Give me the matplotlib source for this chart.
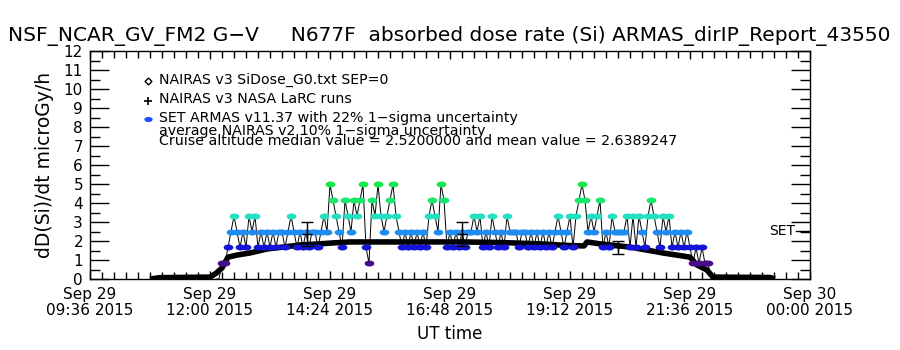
"""ARMAS absorbed dose rate (Si) for flight N677F, 29 Sep 2015."""

import matplotlib
matplotlib.use("Agg")
import matplotlib.pyplot as plt
from matplotlib import font_manager
from matplotlib.path import Path
from matplotlib.ticker import MultipleLocator, FixedLocator
from matplotlib.transforms import blended_transform_factory

# ---- data (UT hours, microGy/h) ----
XTICK_HOURS = [9.6, 12.0, 14.4, 16.8, 19.2, 21.6, 24.0]
XTICK_LABELS = [
    "Sep 29\n09:36 2015", "Sep 29\n12:00 2015", "Sep 29\n14:24 2015",
    "Sep 29\n16:48 2015", "Sep 29\n19:12 2015", "Sep 29\n21:36 2015",
    "Sep 30\n00:00 2015",
]

# NAIRAS v3 SiDose_G0 model along the flight track
nairas_t = [10.80, 11.00, 12.00, 12.12, 12.24, 12.36, 12.54, 12.80, 13.14,
            13.46, 13.80, 14.14, 14.46, 14.80, 16.80, 17.06, 17.80, 18.60,
            19.20, 19.48, 19.54, 19.80, 20.40, 21.06, 21.60, 21.74, 21.94,
            22.06, 23.20, 23.30]
nairas_v = [0.00, 0.07, 0.10, 0.30, 0.58, 1.15, 1.26, 1.37, 1.58,
            1.68, 1.79, 1.84, 1.90, 1.95, 1.95, 1.95, 1.92, 1.85,
            1.76, 1.74, 1.95, 1.85, 1.68, 1.37, 1.15, 0.74, 0.47,
            0.10, 0.08, 0.00]

# NAIRAS v3 NASA LaRC runs with uncertainty
larc_t = [13.94, 17.04, 20.16]
larc_v = [2.37, 2.37, 1.66]
larc_err = [0.63, 0.63, 0.34]

# SET ARMAS samples: quantised dose levels, one sample every 0.06 h from 12.12 UT
set_t0 = 12.12
set_dt = 0.06
set_levels = ("0011 2343 2324 3423 2323 2332 3432 3232 3323 4365 4325 4354 "
              "5621 5464 3456 4323 2323 2324 5436 5232 3232 3343 4232 4323 "
              "2433 3233 2323 2323 2343 2342 4565 3434 5232 4333 3424 2432 "
              "4543 2434 2323 2321 2121 100")
level_value = [0.0, 0.83, 1.66, 2.49, 3.32, 4.15, 4.98]
level_color = [None, "#4a0a8c", "#1414d8", "#1e8cf0", "#22e0c0", "#18e86c", "#14e84c"]

SET_MEDIAN = 2.52

# ---- figure ----
avail = {f.name for f in font_manager.fontManager.ttflist}
plt.rcParams["font.family"] = [f for f in ["Liberation Sans Narrow", "DejaVu Sans"] if f in avail]

fig = plt.figure(figsize=(9, 3.5), dpi=100)
ax = fig.add_axes([90 / 900, 1 - 279 / 350, 720 / 900, 228 / 350])

ax.set_xlim(9.6, 24.0)
ax.set_ylim(0, 12)

# flat oval symbol like the IDL filled circle
oval = Path.unit_circle()
oval = Path(oval.vertices * [1.0, 0.62], oval.codes)

# NAIRAS model, thick black track
ax.plot(nairas_t, nairas_v, color="black", lw=4, solid_capstyle="butt", zorder=3)

# SET ARMAS series
lv = [int(c) for c in set_levels.replace(" ", "")]
st = [set_t0 + i * set_dt for i in range(len(lv))]
sv = [level_value[k] for k in lv]
ax.plot(st, sv, color="black", lw=0.7, zorder=2)
for k in range(1, len(level_value)):
    xs = [t for t, l in zip(st, lv) if l == k]
    ys = [level_value[k]] * len(xs)
    ax.plot(xs, ys, ls="none", marker=oval, ms=7, mew=0,
            color=level_color[k], zorder=4)

ax.errorbar(larc_t, larc_v, yerr=larc_err, fmt="+", color="black",
            ms=7, lw=1, capsize=4, zorder=5)

# axes styling
for s in ax.spines.values():
    s.set_linewidth(1)
ax.xaxis.set_major_locator(FixedLocator(XTICK_HOURS))
ax.xaxis.set_minor_locator(MultipleLocator(0.24))
ax.set_xticklabels(XTICK_LABELS)
ax.yaxis.set_major_locator(MultipleLocator(1))
ax.yaxis.set_minor_locator(MultipleLocator(0.5))
ax.tick_params(axis="both", which="both", direction="in", top=True, right=True,
               width=1)
ax.tick_params(axis="x", which="major", length=6, pad=6, labelsize=11)
ax.tick_params(axis="x", which="minor", length=5)
ax.tick_params(axis="y", which="major", length=14, pad=5, labelsize=11)
ax.tick_params(axis="y", which="minor", length=7)
for lab in ax.get_xticklabels():
    lab.set_linespacing(1.05)

ax.set_xlabel("UT time", fontsize=12, labelpad=5)
ax.set_ylabel("dD(Si)/dt microGy/h", fontsize=13.5, labelpad=7)

# SET median marker on the right axis
tr = blended_transform_factory(ax.transAxes, ax.transData)
ax.plot([1 - 14 / 720, 1], [SET_MEDIAN, SET_MEDIAN], color="black", lw=1,
        transform=tr, clip_on=False)
ax.text(1 - 15 / 720, SET_MEDIAN, "SET", transform=tr, ha="right", va="center",
        fontsize=10)

# legend, drawn in the IDL style
leg_x = (148 - 90) / 720
txt_x = (159 - 90) / 720
ax.plot([leg_x], [(279 - 81) / 228], marker="D", ms=3.5, mfc="white", mec="black",
        mew=1, transform=ax.transAxes, clip_on=False)
ax.plot([leg_x], [(279 - 101) / 228], marker="+", ms=6, color="black", mew=1.2,
        transform=ax.transAxes, clip_on=False)
ax.plot([leg_x], [(279 - 119) / 228], marker=oval, ms=6, mew=0, color="#1f4fff",
        transform=ax.transAxes, clip_on=False)
legend_lines = [
    (80, "NAIRAS v3 SiDose_G0.txt SEP=0"),
    (99, "NAIRAS v3 NASA LaRC runs"),
    (118, "SET ARMAS v11.37 with 22% 1\u2212sigma uncertainty"),
    (131, "average NAIRAS v2 10% 1\u2212sigma uncertainty"),
    (141, "Cruise altitude median value = 2.5200000 and mean value = 2.6389247"),
]
for ypix, txt in legend_lines:
    ax.text(txt_x, (279 - ypix) / 228, txt, transform=ax.transAxes,
            va="center", fontsize=10.2)

fig.text(8 / 900, 1 - 36 / 350,
         "NSF_NCAR_GV_FM2 G\u2212V     N677F  absorbed dose rate (Si) ARMAS_dirIP_Report_43550",
         ha="left", va="center", fontsize=14.5)

fig.savefig("out.png", dpi=100)
